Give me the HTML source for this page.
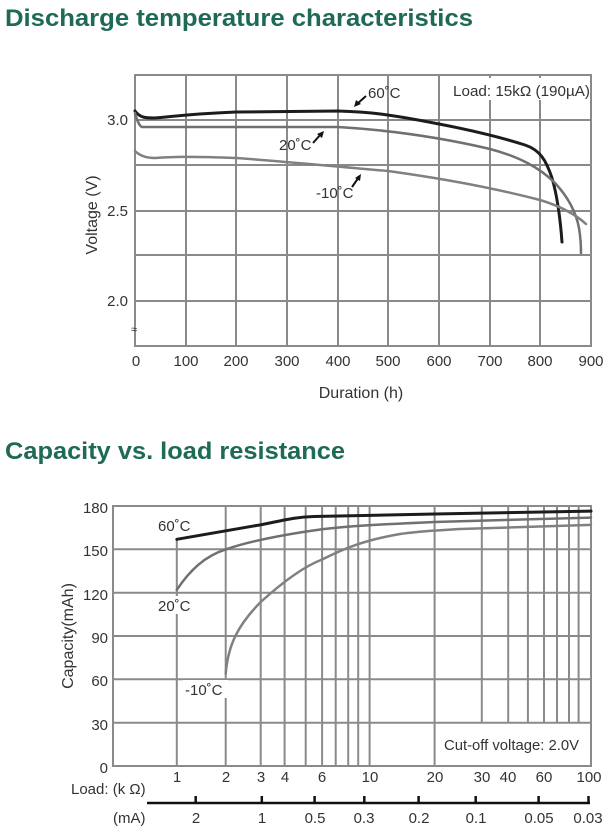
<!DOCTYPE html>
<html><head><meta charset="utf-8"><style>
body{margin:0;background:#fff}
svg{display:block}
text{font-family:"Liberation Sans",Arial,sans-serif;fill:#333}
.t{font-weight:bold;fill:#1e6a56;font-size:24px}
.g{stroke:#8a8a8a;stroke-width:2;fill:none}
.k{font-size:15px}
</style></head><body>
<svg width="610" height="838" viewBox="0 0 610 838">
<text class="t" x="5" y="26" textLength="468" lengthAdjust="spacingAndGlyphs">Discharge temperature characteristics</text>
<text class="t" x="5" y="459" textLength="340" lengthAdjust="spacingAndGlyphs">Capacity vs. load resistance</text>

<!-- Chart 1 -->
<g class="g">
<rect x="135" y="75" width="456" height="271"/>
<line x1="135" y1="120" x2="591" y2="120"/>
<line x1="135" y1="165" x2="591" y2="165"/>
<line x1="135" y1="211" x2="591" y2="211"/>
<line x1="135" y1="255" x2="591" y2="255"/>
<line x1="135" y1="301" x2="591" y2="301"/>
<line x1="186" y1="75" x2="186" y2="346"/>
<line x1="236" y1="75" x2="236" y2="346"/>
<line x1="287" y1="75" x2="287" y2="346"/>
<line x1="338" y1="75" x2="338" y2="346"/>
<line x1="388" y1="75" x2="388" y2="346"/>
<line x1="439" y1="75" x2="439" y2="346"/>
<line x1="490" y1="75" x2="490" y2="346"/>
<line x1="540" y1="75" x2="540" y2="346"/>
</g>
<rect x="450" y="78" width="140" height="22" fill="#fff"/>
<text class="k" x="453" y="96" textLength="137" lengthAdjust="spacingAndGlyphs">Load: 15kΩ (190µA)</text>
<g fill="none" stroke-linejoin="round" stroke-linecap="round">
<path stroke="#1c1c1c" stroke-width="3" d="M135,111 C140,118 146,118 155,118 C170,117 186,114 236,112 L338,111 C370,112 388,114 439,124 C470,130 500,137 525,145 C540,150 546,160 552,178 C557,195 560,215 562,242"/>
<path stroke="#707070" stroke-width="2.5" d="M135,113 C137,120 139,126 142,127 L338,127 C388,130 439,137 490,149 C520,157 540,168 555,183 C568,197 576,212 579,228 C581,240 581,248 581,253"/>
<path stroke="#808080" stroke-width="2.5" d="M135,151 C140,156 146,158 155,158 C170,157 186,156 236,158 C280,161 330,166 388,171 C439,178 490,187 540,200 C560,206 575,214 586,224"/>
</g>
<g class="k">
<text x="368" y="98">60˚C</text>
<text x="279" y="150">20˚C</text>
<text x="316" y="198">-10˚C</text>
</g>
<g stroke="#111" stroke-width="2">
<line x1="366" y1="96" x2="357" y2="104"/>
<line x1="313" y1="143" x2="321" y2="134"/>
<line x1="352" y1="187" x2="359" y2="177"/>
</g>
<polygon points="354,107 356,100 361,104" fill="#111"/>
<polygon points="324,131 317,134 322,138" fill="#111"/>
<polygon points="361,174 355,178 360,181" fill="#111"/>
<g class="k" text-anchor="end">
<text x="128" y="125">3.0</text>
<text x="128" y="216">2.5</text>
<text x="128" y="306">2.0</text>
</g>
<text x="131" y="333" font-size="11">≈</text>
<g class="k" text-anchor="middle">
<text x="136" y="366">0</text><text x="186" y="366">100</text><text x="236" y="366">200</text>
<text x="287" y="366">300</text><text x="338" y="366">400</text><text x="388" y="366">500</text>
<text x="439" y="366">600</text><text x="490" y="366">700</text><text x="540" y="366">800</text>
<text x="591" y="366">900</text>
<text x="361" y="398" font-size="16">Duration (h)</text>
</g>
<text transform="translate(97,215) rotate(-90)" text-anchor="middle" font-size="16">Voltage (V)</text>

<!-- Chart 2 -->
<g class="g">
<rect x="113" y="506" width="478" height="260"/>
<line x1="113" y1="549.3" x2="591" y2="549.3"/>
<line x1="113" y1="592.7" x2="591" y2="592.7"/>
<line x1="113" y1="636" x2="591" y2="636"/>
<line x1="113" y1="679.3" x2="591" y2="679.3"/>
<line x1="113" y1="722.7" x2="591" y2="722.7"/>
<line x1="176.8" y1="539" x2="176.8" y2="766"/>
<line x1="225.7" y1="506" x2="225.7" y2="766"/>
<line x1="260.7" y1="506" x2="260.7" y2="766"/>
<line x1="284.6" y1="506" x2="284.6" y2="766"/>
<line x1="305.7" y1="506" x2="305.7" y2="766"/>
<line x1="322.1" y1="506" x2="322.1" y2="766"/>
<line x1="335.7" y1="506" x2="335.7" y2="766"/>
<line x1="348.2" y1="506" x2="348.2" y2="766"/>
<line x1="358.2" y1="506" x2="358.2" y2="766"/>
<line x1="369.6" y1="506" x2="369.6" y2="766"/>
<line x1="434.6" y1="506" x2="434.6" y2="766"/>
<line x1="481.8" y1="506" x2="481.8" y2="722.7"/>
<line x1="508.2" y1="506" x2="508.2" y2="722.7"/>
<line x1="527.9" y1="506" x2="527.9" y2="722.7"/>
<line x1="544" y1="506" x2="544" y2="722.7"/>
<line x1="557" y1="506" x2="557" y2="722.7"/>
<line x1="569" y1="506" x2="569" y2="722.7"/>
<line x1="578.6" y1="506" x2="578.6" y2="722.7"/>
</g>
<g fill="none" stroke-linejoin="round" stroke-linecap="round">
<path stroke="#1c1c1c" stroke-width="3" d="M176.8,539.3 L260.7,524.8 C285,520 295,517 314,516.5 C340,516 369.6,515.5 434.6,514 L591,511.1"/>
<path stroke="#707070" stroke-width="2.5" d="M176.8,589.8 C190,570 205,556 225.7,549.4 C250,541 280,535 322.1,529.2 C350,526 369.6,524.9 434.6,522 L591,517.6"/>
<path stroke="#808080" stroke-width="2.5" d="M225.7,673.6 C228,645 238,625 260.7,602 C285,580 305,566 322.1,559.5 C345,548 365,540 400,534 C420,531 434.6,530.6 460,529 L591,524.9"/>
</g>
<rect x="156" y="596" width="38" height="18" fill="#fff"/>
<rect x="183" y="680" width="45" height="18" fill="#fff"/>
<g class="k">
<text x="158" y="531">60˚C</text>
<text x="158" y="611">20˚C</text>
<text x="185" y="695">-10˚C</text>
</g>
<rect x="440" y="733" width="145" height="22" fill="#fff"/>
<text class="k" x="444" y="750" textLength="135" lengthAdjust="spacingAndGlyphs">Cut-off voltage: 2.0V</text>
<g class="k" text-anchor="end">
<text x="108" y="513">180</text><text x="108" y="556">150</text><text x="108" y="600">120</text>
<text x="108" y="643">90</text><text x="108" y="686">60</text><text x="108" y="730">30</text>
<text x="108" y="773">0</text>
</g>
<text transform="translate(73,636) rotate(-90)" text-anchor="middle" font-size="16">Capacity(mAh)</text>
<g class="k" text-anchor="middle">
<text x="177" y="782">1</text><text x="226" y="782">2</text><text x="261" y="782">3</text>
<text x="285" y="782">4</text><text x="322" y="782">6</text><text x="370" y="782">10</text>
<text x="435" y="782">20</text><text x="482" y="782">30</text><text x="508" y="782">40</text>
<text x="544" y="782">60</text><text x="589" y="782">100</text>
</g>
<text class="k" x="71" y="794">Load: (k Ω)</text>
<line x1="147" y1="803" x2="590" y2="803" stroke="#111" stroke-width="2.5"/>
<g stroke="#111" stroke-width="2.5">
<line x1="195.7" y1="796" x2="195.7" y2="803"/><line x1="261.8" y1="796" x2="261.8" y2="803"/>
<line x1="314.6" y1="796" x2="314.6" y2="803"/><line x1="364.3" y1="796" x2="364.3" y2="803"/>
<line x1="418.6" y1="796" x2="418.6" y2="803"/><line x1="475.7" y1="796" x2="475.7" y2="803"/>
<line x1="538.6" y1="796" x2="538.6" y2="803"/><line x1="588.5" y1="796" x2="588.5" y2="803"/>
</g>
<text class="k" x="113" y="823">(mA)</text>
<g class="k" text-anchor="middle">
<text x="196" y="823">2</text><text x="262" y="823">1</text><text x="315" y="823">0.5</text>
<text x="364" y="823">0.3</text><text x="419" y="823">0.2</text><text x="476" y="823">0.1</text>
<text x="539" y="823">0.05</text><text x="588" y="823">0.03</text>
</g>
</svg>
</body></html>
